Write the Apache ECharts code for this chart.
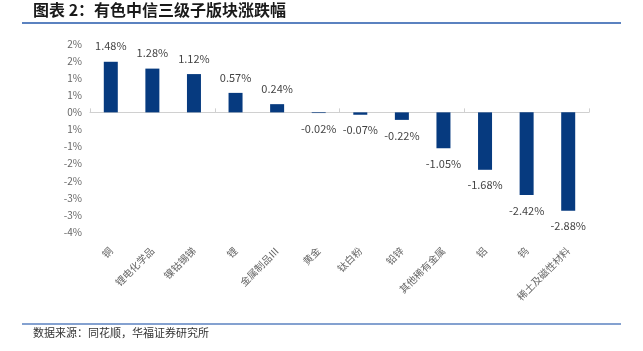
<!DOCTYPE html>
<html>
<head>
<meta charset="utf-8">
<script src="https://cdn.jsdelivr.net/npm/echarts@6/dist/echarts.min.js"></script>
<style>
  html, body { margin: 0; padding: 0; background: #fff; }
  #main { width: 643px; height: 351px; }
</style>
</head>
<body>
<div id="main"></div>
<script>
// 子版块名称
var categories = ['铜', '锂电化学品', '镍钴锡锑', '锂', '金属制品Ⅲ', '黄金', '钛白粉', '铅锌', '其他稀有金属', '铝', '钨', '稀土及磁性材料'];
// 涨跌幅（%）
var changes = [1.48, 1.28, 1.12, 0.57, 0.24, -0.02, -0.07, -0.22, -1.05, -1.68, -2.42, -2.88];
// 纵轴刻度标签，从 2.0 到 -3.5，每 0.5 一格（原图取整显示）
var yTickLabels = ['2%', '2%', '1%', '1%', '0%', '1%', '-1%', '-2%', '-2%', '-3%', '-3%', '-4%'];

var yMax = 2, yMin = -3.5, yStep = 0.5;
var font = '"Noto Sans CJK SC", sans-serif';

var myChart = echarts.init(document.getElementById('main'));

var option = {
  animation: false,
  textStyle: { fontFamily: font },
  grid: { left: 90, right: 54, top: 44, bottom: 119 },
  graphic: [
    {
      type: 'text', left: 33, top: 2,
      style: { text: '图表 2：有色中信三级子版块涨跌幅', fill: '#1a1a1a', font: 'bold 16px ' + font }
    },
    {
      type: 'line', shape: { x1: 22, y1: 23, x2: 621, y2: 23 },
      style: { stroke: '#5b82c0', lineWidth: 2 }
    },
    {
      type: 'line', shape: { x1: 22, y1: 324, x2: 621, y2: 324 },
      style: { stroke: '#5b82c0', lineWidth: 1.5 }
    },
    {
      type: 'text', left: 33, top: 327,
      style: { text: '数据来源：同花顺，华福证券研究所', fill: '#333', font: '11px ' + font }
    }
  ],
  xAxis: [
    {
      type: 'category',
      data: categories,
      position: 'bottom',
      axisLine: { show: false, onZero: false },
      axisTick: { show: false },
      axisLabel: { rotate: 45, margin: 17, fontSize: 10, color: '#666', interval: 0 }
    },
    {
      type: 'category',
      data: categories,
      axisLine: { onZero: true, lineStyle: { color: '#d0d0d0', width: 1 } },
      axisTick: { show: true, length: 4, lineStyle: { color: '#d0d0d0' } },
      axisLabel: { show: false }
    }
  ],
  yAxis: {
    type: 'value',
    min: yMin,
    max: yMax,
    interval: yStep,
    axisLine: { show: false },
    axisTick: { show: false },
    splitLine: { show: false },
    axisLabel: {
      fontSize: 10,
      color: '#666',
      margin: 8,
      formatter: function (v) {
        var i = Math.round((yMax - v) / yStep);
        return yTickLabels[i];
      }
    }
  },
  series: [
    {
      type: 'bar',
      xAxisIndex: 0,
      data: changes.map(function (v) {
        return {
          value: v,
          label: { position: v >= 0 ? 'top' : 'bottom' }
        };
      }),
      barWidth: 14,
      itemStyle: { color: '#063a7f' },
      label: {
        show: true,
        distance: 10,
        fontSize: 11,
        color: '#444',
        formatter: function (p) { return p.value.toFixed(2) + '%'; }
      }
    }
  ]
};

myChart.setOption(option);
</script>
</body>
</html>
